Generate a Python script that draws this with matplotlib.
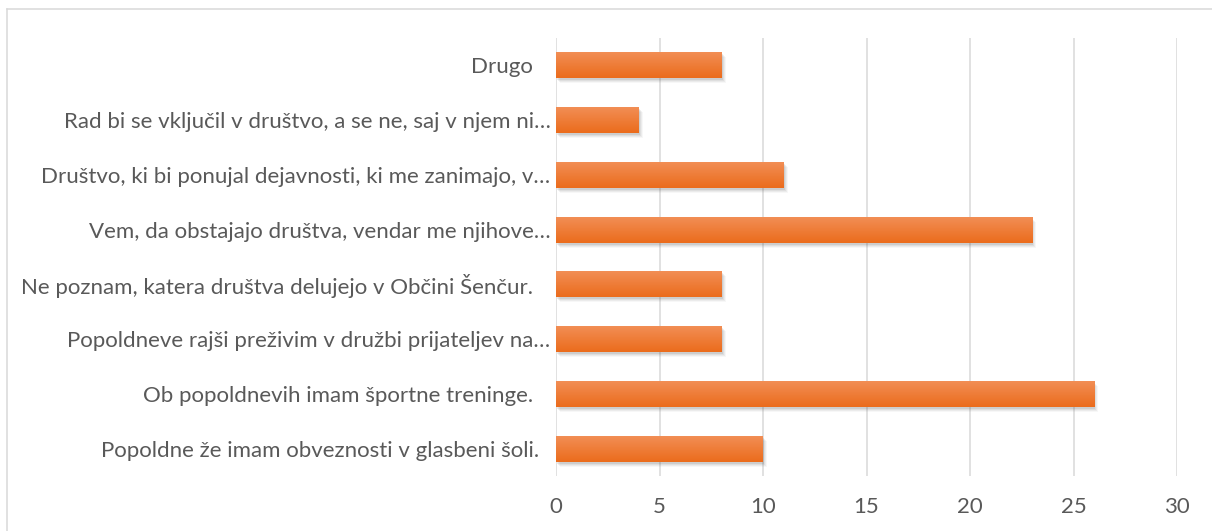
import numpy as np
import matplotlib
matplotlib.use("Agg")
import matplotlib.pyplot as plt
import matplotlib.transforms as mtransforms
from matplotlib.lines import Line2D

# answers, bottom to top as in the chart
labels = [
    "Popoldne že imam obveznosti v glasbeni šoli.\u00a0\u00a0",
    "Ob popoldnevih imam športne treninge.\u00a0\u00a0\u00a0",
    "Popoldneve rajši preživim v družbi prijateljev na…",
    "Ne poznam, katera društva delujejo v Občini Šenčur.\u00a0\u00a0\u00a0",
    "Vem, da obstajajo društva, vendar me njihove…",
    "Društvo, ki bi ponujal dejavnosti, ki me zanimajo, v…",
    "Rad bi se vključil v društvo, a se ne, saj v njem ni…",
    "Drugo\u00a0\u00a0\u00a0",
]
counts = [10, 26, 8, 8, 23, 11, 4, 8]
xticks = [0, 5, 10, 15, 20, 25, 30]

W, H, DPI = 1212, 531, 100
plt.rcParams['font.family'] = ['Lato', 'DejaVu Sans']
txt = '#595959'
grid = '#d9d9d9'

fig = plt.figure(figsize=(W / DPI, H / DPI), dpi=DPI)
ax = fig.add_axes([556 / W, 1 - 476 / H, (1177 - 556) / W, (476 - 38) / H])

y = np.arange(len(labels))
bh = 0.475

# soft shadow under each bar
for dx, dy, al in [(1, -2, 0.10), (2, -3, 0.08), (3, -4, 0.06), (4, -5, 0.04)]:
    off = mtransforms.offset_copy(ax.transData, fig=fig, x=dx, y=dy, units='dots')
    ax.barh(y, counts, height=bh, color='#404040', alpha=al, transform=off,
            zorder=2, linewidth=0)

bars = ax.barh(y, counts, height=bh, color='#ed7d31', zorder=3, linewidth=0)

# vertical gradient inside the bars
grad = np.linspace(0, 1, 64).reshape(-1, 1)
cmap = matplotlib.colors.LinearSegmentedColormap.from_list('o', ['#eb6c1c', '#f28f57'])
for b in bars:
    x0, y0 = b.get_x(), b.get_y()
    im = ax.imshow(grad, cmap=cmap, aspect='auto', origin='lower',
                   extent=[x0, x0 + b.get_width(), y0, y0 + b.get_height()],
                   zorder=4)
    im.set_clip_path(b)

ax.set_xlim(0, 30)
ax.set_ylim(-0.5, len(labels) - 0.5)
ax.set_xticks(xticks)
ax.set_yticks(y)
ax.set_yticklabels(labels)
ax.grid(axis='x', color=grid, linewidth=1.1, zorder=0)
ax.set_axisbelow(True)
for s in ax.spines.values():
    s.set_visible(False)
ax.tick_params(axis='both', length=0, colors=txt, labelsize=16)
ax.tick_params(axis='x', pad=15)
ax.tick_params(axis='y', pad=4)

# chart frame (only left and top edges visible)
fig.add_artist(Line2D([6.5 / W, 6.5 / W], [0, 1 - 9 / H], transform=fig.transFigure,
                      color=grid, linewidth=1.1))
fig.add_artist(Line2D([6.5 / W, 1], [1 - 9 / H, 1 - 9 / H], transform=fig.transFigure,
                      color=grid, linewidth=1.1))

fig.savefig('out.png', dpi=DPI)
